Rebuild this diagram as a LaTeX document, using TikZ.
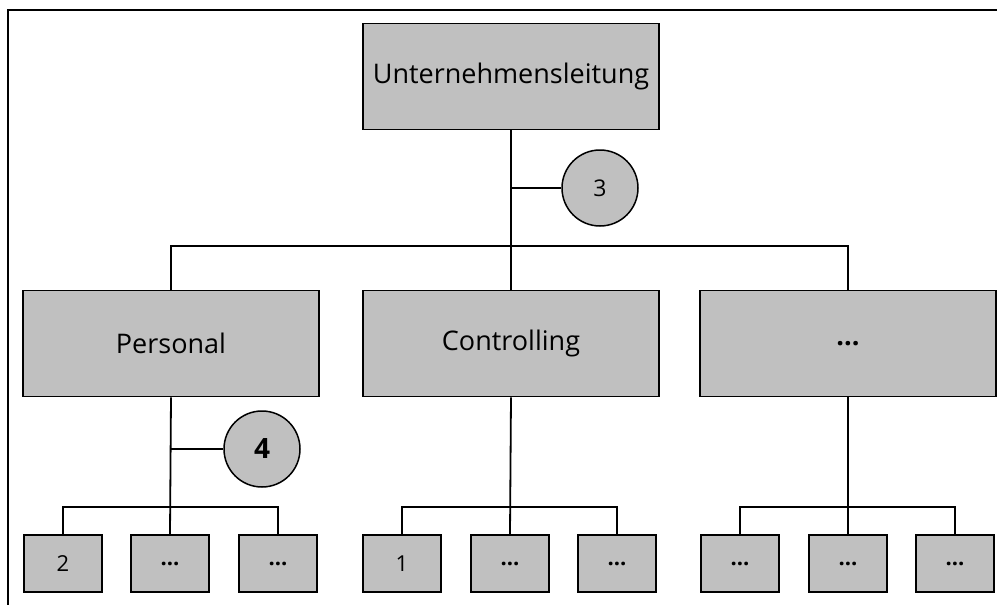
\documentclass[tikz,border=0pt]{standalone}
\usepackage{fontspec}
\setmainfont{Open Sans}
\begin{document}
\begin{tikzpicture}[x=1pt,y=-1pt,
  line width=1.8pt,
  bigbox/.style={draw=black, fill=boxgray, minimum width=296pt, minimum height=106pt, inner sep=0pt, font=\fontsize{27}{32}\selectfont},
  smallbox/.style={draw=black, fill=boxgray, minimum width=78pt, minimum height=57pt, inner sep=0pt, font=\fontsize{22}{26}\selectfont},
  badge/.style={draw=black, fill=boxgray, circle, minimum size=76pt, inner sep=0pt, line width=1.5pt},
  conn/.style={draw=black, line width=1.8pt}]
\definecolor{boxgray}{HTML}{C0C0C0}
\useasboundingbox (0,0) rectangle (997,605);
% frame
\draw[line width=2.2pt] (8,605) -- (8,10) -- (997,10);
% top
\node[bigbox] (top) at (511,76.5) {Unternehmensleitung};
\node[bigbox] (pers) at (171,343.5) {Personal};
\node[bigbox] (ctrl) at (511,343.5) {Controlling};
\node[bigbox] (more) at (848,343.5) {\textbf{...}};
% circles
\node[badge, font=\fontsize{23}{27}\selectfont] (c3) at (600,188) {3};
\node[badge, font=\fontsize{28}{32}\selectfont\bfseries] (c4) at (262,449) {4};
% small boxes
\node[smallbox] (p1) at (63,563.5) {2};
\node[smallbox] (p2) at (170,563.5) {\textbf{...}};
\node[smallbox] (p3) at (278,563.5) {\textbf{...}};
\node[smallbox] (k1) at (402,563.5) {1};
\node[smallbox] (k2) at (510,563.5) {\textbf{...}};
\node[smallbox] (k3) at (617,563.5) {\textbf{...}};
\node[smallbox] (m1) at (740,563.5) {\textbf{...}};
\node[smallbox] (m2) at (848,563.5) {\textbf{...}};
\node[smallbox] (m3) at (955,563.5) {\textbf{...}};
% connectors
\draw[conn] (top.south) -- (ctrl.north);
\draw[conn] (pers.north) -- ++(0,-44) -| (more.north);
\draw[conn] (c3.west) -- (c3.west -| top.south);
\draw[conn] (pers.south) -- (p2.north);
\draw[conn] (c4.west) -- (c4.west -| pers.south);
\draw[conn] (p1.north) -- ++(0,-27) -| (p3.north);
\draw[conn] (ctrl.south) -- (k2.north);
\draw[conn] (k1.north) -- ++(0,-27) -| (k3.north);
\draw[conn] (more.south) -- (m2.north);
\draw[conn] (m1.north) -- ++(0,-27) -| (m3.north);
\end{tikzpicture}
\end{document}
